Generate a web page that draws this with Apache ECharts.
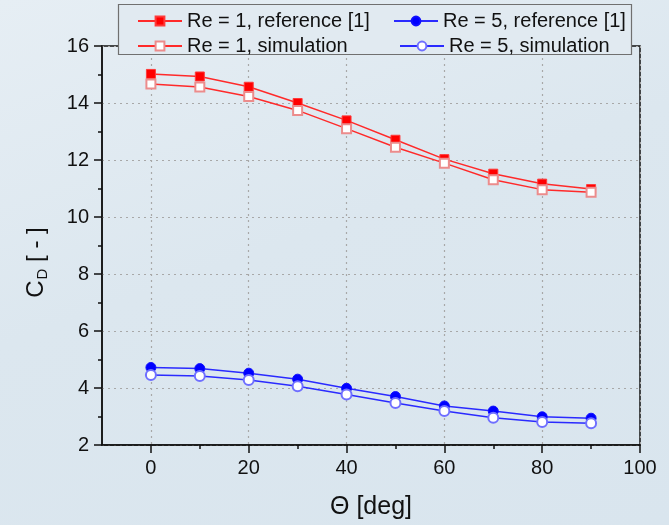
<!DOCTYPE html>
<html>
<head>
<meta charset="utf-8">
<script src="https://cdn.jsdelivr.net/npm/echarts@6/dist/echarts.min.js"></script>
<style>
html,body{margin:0;padding:0;}
#chart{width:669px;height:525px;background:linear-gradient(160deg,#e6eef4 0%,#dce7ef 45%,#d9e5ee 100%);}
</style>
</head>
<body>
<div id="chart"></div>
<script>
var theta = [0, 10, 20, 30, 40, 50, 60, 70, 80, 90];
var re1Ref = [15.02, 14.93, 14.57, 14.0, 13.39, 12.71, 12.03, 11.52, 11.17, 10.98];
var re1Sim = [14.67, 14.56, 14.23, 13.74, 13.10, 12.45, 11.89, 11.31, 10.96, 10.87];
var re5Ref = [4.72, 4.68, 4.52, 4.31, 3.99, 3.70, 3.37, 3.19, 2.99, 2.94];
var re5Sim = [4.46, 4.42, 4.28, 4.06, 3.77, 3.47, 3.19, 2.96, 2.81, 2.76];
var xMajor = [0, 20, 40, 60, 80, 100];
var xMinor = [10, 30, 50, 70, 90];
var names = ['Re = 1, reference [1]', 'Re = 5, reference [1]', 'Re = 1, simulation', 'Re = 5, simulation'];

function pairs(ys){ return theta.map(function(t,i){ return [t, ys[i]]; }); }

var chart = echarts.init(document.getElementById('chart'), null, {renderer:'canvas'});
var font = 'Liberation Sans, Arial, sans-serif';
var legendText = {fontFamily: font, fontSize: 20, color: '#111'};
function leg(name, left, top){
  return {data:[name], left:left, top:top, itemWidth:44, itemHeight:11, itemGap:6, z:30,
    textStyle: legendText, padding:0, selectedMode:false};
}
chart.setOption({
  animation:false,
  grid:{left:102, top:46, width:538, height:400, show:true, borderColor:'#111', borderWidth:1.5, backgroundColor:'transparent'},
  graphic:[{type:'rect', shape:{x:118.5, y:4.5, width:513, height:50}, z:20,
    style:{fill:'#e1eaf1', stroke:'#707070', lineWidth:1.2}}],
  legend:[leg(names[0],137,11), leg(names[1],393,11), leg(names[2],137,36), leg(names[3],399,36)],
  xAxis:[{
    type:'value', min:-10, max:100, position:'bottom',
    name:'Θ [deg]', nameLocation:'middle', nameGap:50,
    nameTextStyle:{fontFamily:font, fontSize:25, color:'#111'},
    axisLine:{onZero:false, lineStyle:{color:'#111', width:1.5}},
    axisTick:{show:true, inside:false, length:8, customValues:xMajor, lineStyle:{color:'#111', width:1.5}},
    axisLabel:{customValues:xMajor, margin:13, fontFamily:font, fontSize:20, color:'#111'},
    splitLine:{show:true, lineStyle:{color:'#a8a8a8', type:[2,4], width:1.2}}
  },{
    type:'value', min:-10, max:100, position:'bottom',
    axisLine:{show:false, onZero:false},
    axisTick:{show:true, inside:false, length:4, customValues:xMinor, lineStyle:{color:'#111', width:1.5}},
    axisLabel:{show:false},
    splitLine:{show:false}
  }],
  yAxis:{
    type:'value', min:2, max:16, interval:2,
    name:'{a|C}{b|D}{a| [ - ]}', nameLocation:'middle', nameGap:52, nameRotate:90,
    nameTextStyle:{fontFamily:font, fontSize:24, color:'#111', padding:[0,34,0,0],
      rich:{a:{fontFamily:font, fontSize:24, color:'#111'}, b:{fontFamily:font, fontSize:15, color:'#111', padding:[12,0,0,1]}}},
    axisLine:{onZero:false, lineStyle:{color:'#111', width:1.5}},
    axisTick:{show:true, inside:false, length:8, lineStyle:{color:'#111', width:1.5}},
    minorTick:{show:true, splitNumber:2, length:4, lineStyle:{color:'#111', width:1.5}},
    axisLabel:{margin:13, fontFamily:font, fontSize:20, color:'#111'},
    splitLine:{show:true, lineStyle:{color:'#a8a8a8', type:[2,4], width:1.2}}
  },
  series:[
    {name:names[0], type:'line', data:pairs(re1Ref), symbol:'rect', symbolSize:9, showAllSymbol:true,
      lineStyle:{color:'#ff2a2a', width:1.5}, itemStyle:{color:'#ff0000', borderColor:'#ff3a3a', borderWidth:1}, z:3},
    {name:names[2], type:'line', data:pairs(re1Sim), symbol:'emptyRect', symbolSize:9, showAllSymbol:true,
      lineStyle:{color:'#ff2a2a', width:1.5}, itemStyle:{color:'#ec8c8c', borderColor:'#ec7f7f', borderWidth:1.5}, z:4},
    {name:names[1], type:'line', data:pairs(re5Ref), symbol:'circle', symbolSize:10, showAllSymbol:true,
      lineStyle:{color:'#2a2aff', width:1.5}, itemStyle:{color:'#0000ff', borderColor:'#1010ff', borderWidth:1}, z:3},
    {name:names[3], type:'line', data:pairs(re5Sim), symbol:'emptyCircle', symbolSize:10, showAllSymbol:true,
      lineStyle:{color:'#2a2aff', width:1.5}, itemStyle:{color:'#6f6fff', borderColor:'#6a6aff', borderWidth:1.5}, z:4}
  ]
});
</script>
</body>
</html>
